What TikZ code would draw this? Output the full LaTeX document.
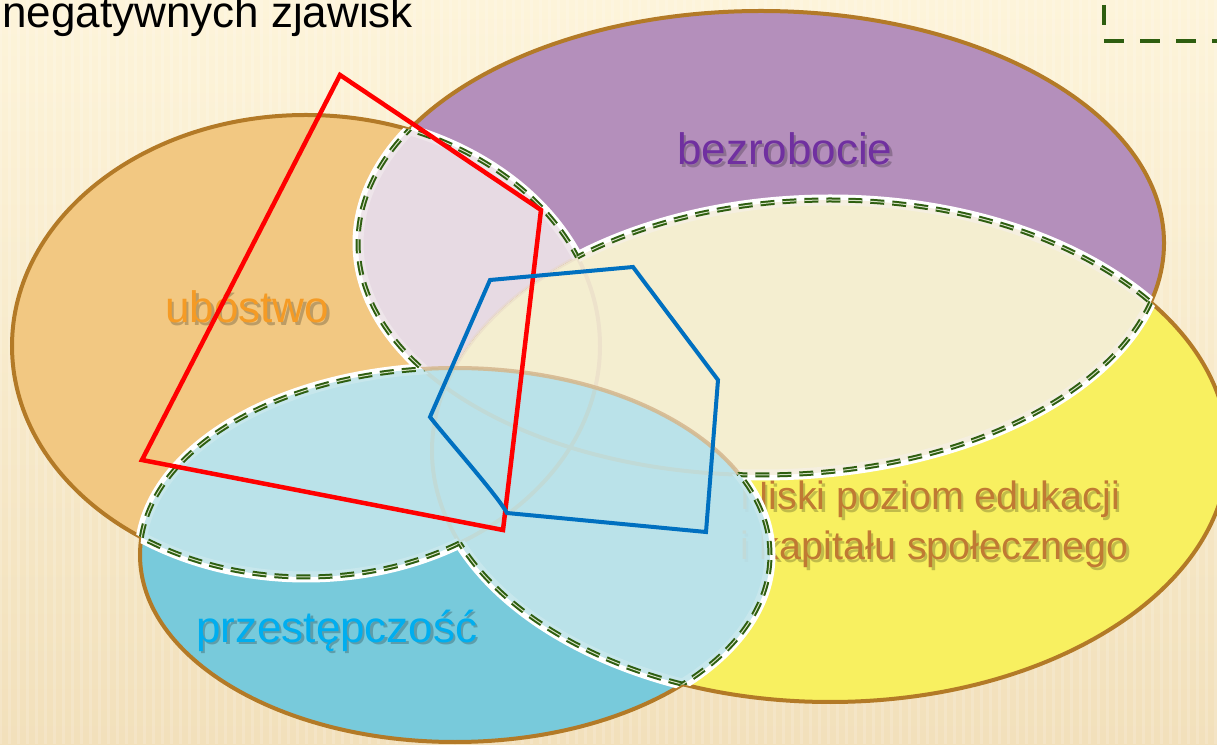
\documentclass[tikz,border=0pt]{standalone}
\usepackage{fontspec}
\setmainfont{Liberation Sans}
\definecolor{bgtop}{HTML}{FDF4DA}
\definecolor{bgbot}{HTML}{F2E0BB}
\definecolor{orfill}{HTML}{F2C882}
\definecolor{pufill}{HTML}{B48FBB}
\definecolor{yefill}{HTML}{F8F060}
\definecolor{cyfill}{HTML}{78CADB}
\definecolor{ellbrown}{HTML}{B37A27}
\definecolor{lavfill}{HTML}{EDE3E8}
\definecolor{crfill}{HTML}{F4EEDD}
\definecolor{lcfill}{HTML}{C2E5EB}
\definecolor{tanline}{HTML}{D5B68A}
\definecolor{dkgreen}{HTML}{2E5E10}
\definecolor{lightdash}{HTML}{D5E0C5}
\definecolor{polyred}{HTML}{FF0000}
\definecolor{polyblue}{HTML}{0070C0}
\definecolor{txpurple}{HTML}{7030A0}
\definecolor{txorange}{HTML}{F59B25}
\definecolor{txbrown}{HTML}{C07A33}
\definecolor{txcyan}{HTML}{00AEEF}
\def\ellO{(306,398) ellipse [x radius=294, y radius=231]}
\def\ellP{(761,501) ellipse [x radius=403, y radius=232]}
\def\ellY{(830,293) ellipse [x radius=398, y radius=251]}
\def\ellC{(455,189) ellipse [x radius=315, y radius=187]}
\def\bigrect{(-100,-100) -- (-100,900) -- (1400,900) -- (1400,-100) -- cycle}
\newcommand\bpiece[5]{\begin{scope}[even odd rule]\clip #3;\clip #4 \bigrect;\clip #5 \bigrect;\draw[#1] #2;\end{scope}}
\newcommand\boundary[1]{%
 \bpiece{#1}{\ellO}{\ellP}{\ellY}{\ellC}%
 \bpiece{#1}{\ellO}{\ellY}{\ellP}{\ellC}%
 \bpiece{#1}{\ellO}{\ellC}{\ellP}{\ellY}%
 \bpiece{#1}{\ellP}{\ellO}{\ellY}{\ellC}%
 \bpiece{#1}{\ellP}{\ellY}{\ellO}{\ellC}%
 \bpiece{#1}{\ellP}{\ellC}{\ellO}{\ellY}%
 \bpiece{#1}{\ellY}{\ellO}{\ellP}{\ellC}%
 \bpiece{#1}{\ellY}{\ellP}{\ellO}{\ellC}%
 \bpiece{#1}{\ellY}{\ellC}{\ellO}{\ellP}%
 \bpiece{#1}{\ellC}{\ellO}{\ellP}{\ellY}%
 \bpiece{#1}{\ellC}{\ellP}{\ellO}{\ellY}%
 \bpiece{#1}{\ellC}{\ellY}{\ellO}{\ellP}}
\begin{document}
\begin{tikzpicture}[x=1pt,y=1pt,
  ellstroke/.style={draw=ellbrown, line width=4pt},
  halo/.style={draw=white, line width=11pt},
  dashb/.style={draw=dkgreen, line width=2pt, double=lightdash, double distance=1pt, dash pattern=on 14pt off 8pt},
  redpoly/.style={draw=polyred, line width=4.5pt, line join=miter},
  bluepoly/.style={draw=polyblue, line width=4pt, line join=miter},
  lbl/.style={inner sep=0pt, anchor=base west, font=\fontsize{44pt}{52pt}\selectfont},
  lblsmall/.style={inner sep=0pt, anchor=base west, font=\fontsize{39.5pt}{48pt}\selectfont},
  shad/.style={text=black, opacity=0.22},
  boxdash/.style={draw=dkgreen, line width=4pt, dash pattern=on 20pt off 16pt}]
\useasboundingbox (0,0) rectangle (1217,744);
% background
\shade[top color=bgtop, bottom color=bgbot] (0,0) rectangle (1217,744);
\foreach \i in {0,9,...,1217} \draw[white, opacity=0.16, line width=3pt] (\i,0) -- (\i,744);
% base ellipses
\fill[orfill] \ellO;
\fill[pufill] \ellP;
\fill[yefill] \ellY;
\fill[cyfill] \ellC;
\draw[ellstroke] \ellO;
\draw[ellstroke] \ellP;
\draw[ellstroke] \ellY;
\draw[ellstroke] \ellC;
% labels
\node[lbl, shad] (ubos) at (167.5,418.5) {ubóstwo};
\node[lbl, text=txorange] (ubo) at (165,421) {ubóstwo};
\node[lbl, shad] (bezs) at (679.5,576.5) {bezrobocie};
\node[lbl, text=txpurple] (bez) at (677,579) {bezrobocie};
\node[lbl, shad] (przs) at (198.5,99.5) {przestępczość};
\node[lbl, text=txcyan] (prz) at (196,102) {przestępczość};
\node[lblsmall, shad] (nis1s) at (742.5,231.5) {Niski poziom edukacji};
\node[lblsmall, text=txbrown] (nis1) at (740,234) {Niski poziom edukacji};
\node[lblsmall, shad] (nis2s) at (742.5,181.5) {i kapitału społecznego};
\node[lblsmall, text=txbrown] (nis2) at (740,184) {i kapitału społecznego};
% white halo of the overlap outline
\boundary{halo}
% overlap fills
\begin{scope}[even odd rule]
  \clip \ellO; \clip \ellY \bigrect; \clip \ellC \bigrect;
  \fill[lavfill, opacity=0.9] \ellP;
\end{scope}
\begin{scope}[even odd rule]
  \clip \ellP; \clip \ellC \bigrect;
  \fill[crfill, opacity=0.9] \ellY;
\end{scope}
\begin{scope}
  \clip \ellC;
  \fill[lcfill, opacity=0.9] \ellO \ellP \ellY;
\end{scope}
\begin{scope}
  \clip \ellP;
  \draw[draw=tanline, line width=4pt, opacity=0.8] \ellC;
\end{scope}
% dashed outline of the overlap
\boundary{dashb}
% red and blue polygons
\coordinate (r1) at (340,669);
\coordinate (r2) at (541,534);
\coordinate (r3) at (503,214);
\coordinate (r4) at (142,284);
\draw[redpoly] (r1) -- (r2) -- (r3) -- (r4) -- cycle;
\coordinate (b1) at (490,464);
\coordinate (b2) at (633,477);
\coordinate (b3) at (718,364);
\coordinate (b4) at (706,212);
\coordinate (b5) at (507,231);
\coordinate (b6) at (430,327);
\draw[bluepoly] (b1) -- (b2) -- (b3) -- (b4) -- (b5) .. controls (497,249) and (448,304) .. (b6) -- cycle;
% title and dashed box
\node[lbl, text=black] (title) at (2,716) {negatywnych zjawisk};
\node[boxdash, anchor=south west, minimum width=300pt, minimum height=150pt, inner sep=0pt] (box) at (1102,701) {};
\end{tikzpicture}
\end{document}
